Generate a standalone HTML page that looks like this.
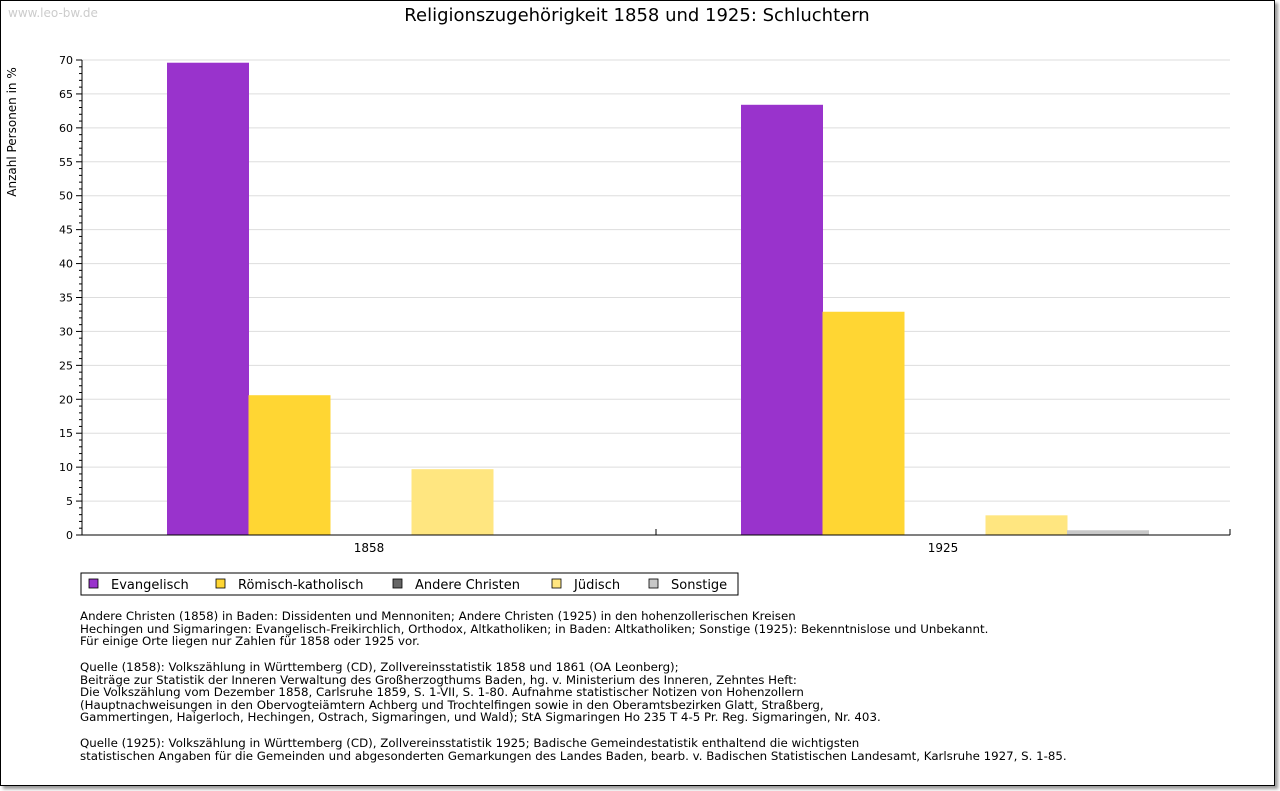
<!DOCTYPE html>
<html><head><meta charset="utf-8"><style>
body{margin:0;background:#fff;width:1280px;height:791px;overflow:hidden;font-family:"DejaVu Sans","Liberation Sans",sans-serif}
#frame{position:absolute;left:0;top:0;width:1273px;height:784px;border:1px solid #000;box-shadow:3px 3px 3px #999;background:#fff}
.notes{position:absolute;left:80px;font-size:11.8px;line-height:12.6px;color:#000;white-space:pre;font-family:"DejaVu Sans",sans-serif}
</style></head><body>
<div id="frame"></div>
<svg id="chart" width="1280" height="791" style="position:absolute;left:0;top:0" font-family="DejaVu Sans, Liberation Sans, sans-serif">
<text x="8" y="17" font-size="12" fill="#ccc">www.leo-bw.de</text>
<text x="637" y="21" font-size="18" text-anchor="middle">Religionszugehörigkeit 1858 und 1925: Schluchtern</text>
<text transform="translate(16,132) rotate(-90)" font-size="12" text-anchor="middle">Anzahl Personen in %</text>
<g id="grid"></g><g id="bars"></g><g id="axes"></g>
<g>
<rect x="81" y="573" width="657" height="22" fill="#fff" stroke="#000"/>
<g id="legend"></g>
</g>
</svg>
<div class="notes" style="top:610px">Andere Christen (1858) in Baden: Dissidenten und Mennoniten; Andere Christen (1925) in den hohenzollerischen Kreisen
Hechingen und Sigmaringen: Evangelisch-Freikirchlich, Orthodox, Altkatholiken; in Baden: Altkatholiken; Sonstige (1925): Bekenntnislose und Unbekannt.
Für einige Orte liegen nur Zahlen für 1858 oder 1925 vor.</div>
<div class="notes" style="top:661px">Quelle (1858): Volkszählung in Württemberg (CD), Zollvereinsstatistik 1858 und 1861 (OA Leonberg);
Beiträge zur Statistik der Inneren Verwaltung des Großherzogthums Baden, hg. v. Ministerium des Inneren, Zehntes Heft:
Die Volkszählung vom Dezember 1858, Carlsruhe 1859, S. 1-VII, S. 1-80. Aufnahme statistischer Notizen von Hohenzollern
(Hauptnachweisungen in den Obervogteiämtern Achberg und Trochtelfingen sowie in den Oberamtsbezirken Glatt, Straßberg,
Gammertingen, Haigerloch, Hechingen, Ostrach, Sigmaringen, und Wald); StA Sigmaringen Ho 235 T 4-5 Pr. Reg. Sigmaringen, Nr. 403.</div>
<div class="notes" style="top:737px">Quelle (1925): Volkszählung in Württemberg (CD), Zollvereinsstatistik 1925; Badische Gemeindestatistik enthaltend die wichtigsten
statistischen Angaben für die Gemeinden und abgesonderten Gemarkungen des Landes Baden, bearb. v. Badischen Statistischen Landesamt, Karlsruhe 1927, S. 1-85.</div>
<script>
const categories=["1858","1925"];
const seriesNames=["Evangelisch","Römisch-katholisch","Andere Christen","Jüdisch","Sonstige"];
const seriesColors=["#9933cc","#ffd633","#666666","#ffe680","#c8c8c8"];
const evangelisch=[69.6,63.4];
const katholisch=[20.6,32.9];
const andere=[0,0];
const juedisch=[9.7,2.9];
const sonstige=[0,0.7];
const yTicks=[0,5,10,15,20,25,30,35,40,45,50,55,60,65,70];
const series=[evangelisch,katholisch,andere,juedisch,sonstige];
const NS="http://www.w3.org/2000/svg";
const X0=82,X1=1230,Y0=535,Y1=60,YMAX=70;
const y=v=>Y0-(v/YMAX)*(Y0-Y1);
const catW=(X1-X0)/categories.length, barW=81.5, off=85;
function mk(t,a,p){const e=document.createElementNS(NS,t);for(const k in a)e.setAttribute(k,a[k]);p.appendChild(e);return e;}
const grid=document.getElementById('grid'),bars=document.getElementById('bars'),axes=document.getElementById('axes'),leg=document.getElementById('legend');
yTicks.forEach(v=>{
 if(v>0){const l=mk('line',{x1:X0,x2:X1,y1:y(v),y2:y(v),stroke:'#ddd'},grid);
 
 }
 mk('line',{x1:X0-6,x2:X0,y1:y(v),y2:y(v),stroke:'#000'},axes);
 const t=mk('text',{x:X0-9,y:y(v)+4,'font-size':11,'text-anchor':'end'},axes);t.textContent=v;
 
 
});
for(let v=1;v<YMAX;v++){if(v%5)mk('line',{x1:X0-3,x2:X0,y1:y(v),y2:y(v),stroke:'#000'},axes);}
categories.forEach((c,i)=>{
 const cx=X0+i*catW;
 series.forEach((s,j)=>{
  if(s[i]<=0)return;
  const r=mk('rect',{x:cx+off+j*barW,y:y(s[i]),width:barW+0.5,height:Y0-y(s[i]),fill:seriesColors[j]},bars);
  
  
 });
 const t=mk('text',{x:cx+catW/2,y:552,'font-size':12,'text-anchor':'middle'},axes);t.textContent=c;
 
 
 if(i>0)mk('line',{x1:cx,x2:cx,y1:Y0,y2:Y0-6,stroke:'#000'},axes);
});
mk('line',{x1:X1,x2:X1,y1:Y0,y2:Y0-6,stroke:'#000'},axes);
mk('line',{x1:X0,x2:X0,y1:Y1,y2:Y0,stroke:'#000'},axes);
mk('line',{x1:X0,x2:X1,y1:Y0,y2:Y0,stroke:'#000'},axes);
const legX=[89,216,393,552,649];
seriesNames.forEach((n,j)=>{
 const r=mk('rect',{x:legX[j],y:579,width:9,height:9,fill:seriesColors[j],stroke:'#000','stroke-width':0.8},leg);
 
 
 const t=mk('text',{x:legX[j]+22,y:589,'font-size':13},leg);t.textContent=n;
 
 
});
</script>
</body></html>
